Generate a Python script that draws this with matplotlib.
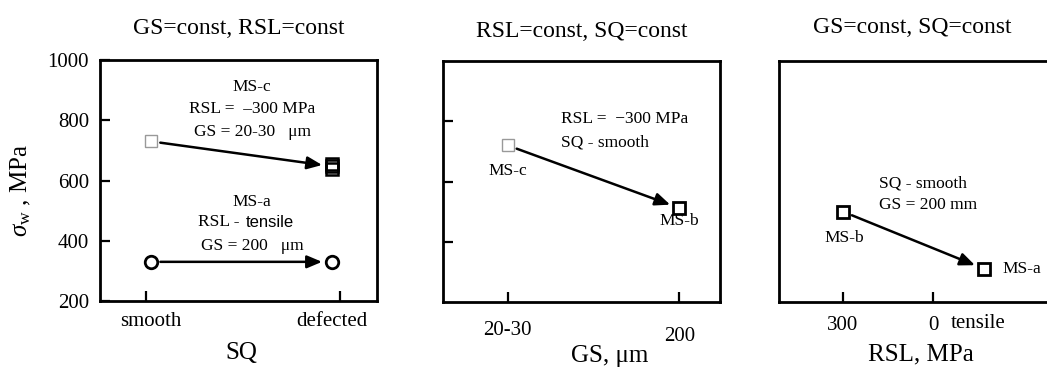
import numpy as np
import matplotlib
matplotlib.use('Agg')
import matplotlib.pyplot as plt

plt.rcParams['font.family'] = ['Liberation Serif', 'DejaVu Serif']
plt.rcParams['mathtext.fontset'] = 'custom'
plt.rcParams['mathtext.rm'] = 'Liberation Serif'
plt.rcParams['mathtext.it'] = 'Liberation Serif:italic'

# panel 1: effect of surface quality (SQ)
sq_labels = ['smooth', 'defected']
msc_sq = [730]                 # MS-c, smooth
msc_defected = [655, 647, 638]  # MS-c, defected (three specimens)
msa_sq = [330, 330]            # MS-a, smooth / defected

# panel 2: effect of grain size (GS)
gs_labels = ['20-30', '200']
gs_values = [720, 512]         # MS-c, MS-b

# panel 3: effect of residual stress level (RSL)
rsl_ticks = [-300, 0]
rsl_tick_labels = ['300', '0']
rsl_x = [-300, 170]            # MS-b, MS-a
rsl_values = [500, 310]

W, H = 1047, 371
fig = plt.figure(figsize=(W / 100, H / 100), dpi=100)


def px_box(l, t, r, b):
    return [l / W, 1 - b / H, (r - l) / W, (b - t) / H]


ax1 = fig.add_axes(px_box(100, 60, 377, 301))
ax2 = fig.add_axes(px_box(443, 61, 720, 302))
ax3 = fig.add_axes(px_box(779, 61, 1062, 302))

tick_fs = 15
note_fs = 12.5
title_fs = 17
xlab_fs = 18
arrow = dict(arrowstyle='-|>,head_length=0.9,head_width=0.38', color='black',
             lw=1.8, shrinkA=7, shrinkB=7)

for ax in (ax1, ax2, ax3):
    ax.set_ylim(200, 1000)
    for s in ax.spines.values():
        s.set_linewidth(2)
    ax.tick_params(direction='in', length=7, width=1.6, labelsize=tick_fs)

# ---- panel 1
ax1.set_xlim(-0.28, 1.25)
ax1.plot([0], msc_sq, 's', ms=9, mfc='white', mec='#999999', mew=1)
ax1.plot([1] * len(msc_defected), msc_defected, 's', ms=9, mfc='none',
         mec='black', mew=1.8)
ax1.plot([0, 1], msa_sq, 'o', ms=9, mfc='white', mec='black', mew=2)
ax1.annotate('', xy=(1, msc_defected[1]), xytext=(0, msc_sq[0]), arrowprops=arrow)
ax1.annotate('', xy=(1, msa_sq[1]), xytext=(0, msa_sq[0]), arrowprops=arrow)
ax1.set_yticks([200, 400, 600, 800, 1000])
ax1.tick_params(axis='y', pad=8)
ax1.set_xticks([0, 1])
ax1.set_xticklabels(sq_labels)
ax1.set_xticks([-0.027, 1.044], minor=True)
ax1.tick_params(axis='x', which='major', length=0, pad=8)
ax1.tick_params(axis='x', which='minor', direction='in', length=7, width=1.6)
ax1.text(0.56, 910, 'MS-c', ha='center', va='center', fontsize=note_fs)
ax1.text(0.56, 837, 'RSL =  \u2013300 MPa', ha='center', va='center', fontsize=note_fs)
ax1.text(0.56, 761, 'GS = 20-30   \u03bcm', ha='center', va='center', fontsize=note_fs)
ax1.text(0.56, 529, 'MS-a', ha='center', va='center', fontsize=note_fs)
ax1.text(0.26, 462, 'RSL -', ha='left', va='center', fontsize=note_fs)
ax1.text(0.527, 462, 'tensile', ha='left', va='center', fontsize=note_fs - 0.5,
         family='Liberation Sans')
ax1.text(0.56, 383, 'GS = 200   \u03bcm', ha='center', va='center', fontsize=note_fs)
ax1.set_title('GS=const, RSL=const', fontsize=title_fs, pad=19)
ax1.set_xlabel('SQ', fontsize=xlab_fs)
ax1.xaxis.label.set_va('center')
ax1.xaxis.set_label_coords(0.51, -0.215)
ax1.set_ylabel(r'$\sigma_{\mathrm{w}}$ , MPa', fontsize=xlab_fs)
ax1.yaxis.label.set_va('center')
ax1.yaxis.set_label_coords(-0.285, 0.46)

# ---- panel 2
ax2.set_xlim(-0.376, 1.237)
ax2.plot([0], gs_values[:1], 's', ms=9, mfc='white', mec='#999999', mew=1)
ax2.plot([1], gs_values[1:], 's', ms=9, mfc='none', mec='black', mew=2)
ax2.annotate('', xy=(1, gs_values[1]), xytext=(0, gs_values[0]), arrowprops=arrow)
ax2.set_yticks([400, 600, 800])
ax2.set_yticklabels([])
ax2.set_xticks([0, 1])
ax2.set_xticklabels(gs_labels)
ax2.tick_params(axis='x', pad=14)
ax2.xaxis.get_major_ticks()[1].set_pad(18)
ax2.text(0.312, 807, 'RSL =  \u2212300 MPa', ha='left', va='center', fontsize=note_fs)
ax2.text(0.312, 731, 'SQ - smooth', ha='left', va='center', fontsize=note_fs)
ax2.text(0.0, 635, 'MS-c', ha='center', va='center', fontsize=note_fs)
ax2.text(1.0, 469, 'MS-b', ha='center', va='center', fontsize=note_fs)
ax2.set_title('RSL=const, SQ=const', fontsize=title_fs, pad=17)
ax2.set_xlabel('GS, \u03bcm', fontsize=xlab_fs)
ax2.xaxis.label.set_va('center')
ax2.xaxis.set_label_coords(0.6, -0.222)

# ---- panel 3
ax3.set_xlim(-513, 430)
ax3.plot(rsl_x, rsl_values, 's', ms=9, mfc='none', mec='black', mew=2)
ax3.annotate('', xy=(rsl_x[1], rsl_values[1]), xytext=(rsl_x[0], rsl_values[0]),
             arrowprops=arrow)
ax3.set_yticks([])
ax3.spines['right'].set_visible(False)
ax3.set_xticks(rsl_ticks)
ax3.set_xticklabels(rsl_tick_labels)
ax3.tick_params(axis='x', pad=10)
ax3.text(150, -0.088, 'tensile', transform=ax3.get_xaxis_transform(),
         ha='center', va='center', fontsize=tick_fs)
ax3.text(-180, 594, 'SQ - smooth', ha='left', va='center', fontsize=note_fs)
ax3.text(-180, 521, 'GS = 200 mm', ha='left', va='center', fontsize=note_fs)
ax3.text(-297, 412, 'MS-b', ha='center', va='center', fontsize=note_fs)
ax3.text(233, 310, 'MS-a', ha='left', va='center', fontsize=note_fs)
ax3.set_title('GS=const, SQ=const', fontsize=title_fs, pad=20, x=0.47)
ax3.set_xlabel('RSL, MPa', fontsize=xlab_fs)
ax3.xaxis.label.set_va('center')
ax3.xaxis.set_label_coords(0.50, -0.218)

fig.savefig('out.png', dpi=100)
